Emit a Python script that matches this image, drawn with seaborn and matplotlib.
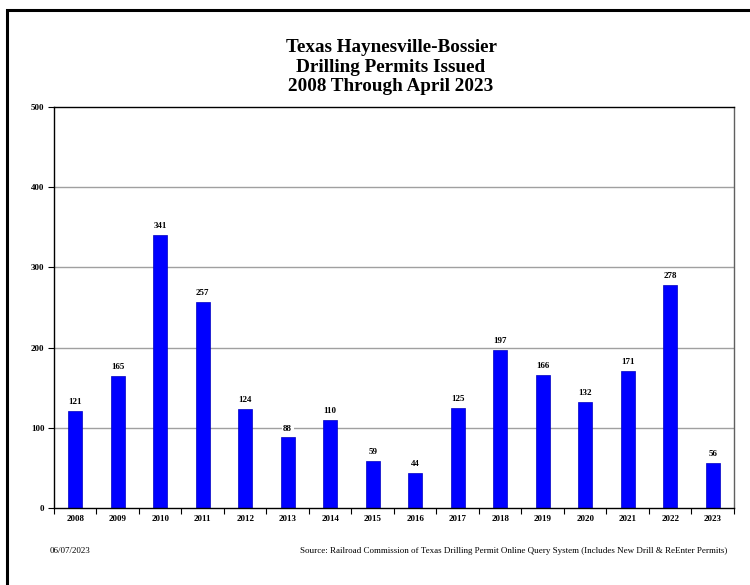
import matplotlib
matplotlib.use("Agg")
import matplotlib.pyplot as plt
import seaborn as sns
import pandas as pd
from matplotlib.patches import Rectangle

years = ["2008", "2009", "2010", "2011", "2012", "2013", "2014", "2015",
         "2016", "2017", "2018", "2019", "2020", "2021", "2022", "2023"]
permits = [121, 165, 341, 257, 124, 88, 110, 59, 44, 125, 197, 166, 132, 171, 278, 56]
yticks = [0, 100, 200, 300, 400, 500]

title = "Texas Haynesville-Bossier\nDrilling Permits Issued\n2008 Through April 2023"
date_text = "06/07/2023"
source_text = ("Source: Railroad Commission of Texas Drilling Permit Online Query System "
               "(Includes New Drill & ReEnter Permits)")

sns.set_theme(style="white")
plt.rcParams['font.family'] = ['Liberation Serif', 'DejaVu Serif']
plt.rcParams['text.color'] = 'black'
plt.rcParams['xtick.color'] = 'black'
plt.rcParams['ytick.color'] = 'black'

df = pd.DataFrame({"year": years, "permits": permits})

W, H = 750, 585
fig = plt.figure(figsize=(7.5, 5.85), dpi=100)
fig.patch.set_facecolor("white")

# outer frame (runs off right and bottom edges)
fig.add_artist(Rectangle((7 / W, -0.1), 1.2, 1 - 10 / H + 0.1,
                         transform=fig.transFigure, fill=False,
                         edgecolor="black", linewidth=2.2, clip_on=False))

ax = fig.add_axes([54 / W, 1 - 508 / H, (734 - 54) / W, (508 - 107) / H])
sns.barplot(data=df, x="year", y="permits", color="#0000FF", saturation=1,
            width=0.33, edgecolor="#0000C0", linewidth=0.5, ax=ax)

ax.set_ylim(0, 500)
ax.set_xlim(-0.5, len(years) - 0.5)
ax.set_yticks(yticks)
ax.set_yticklabels([str(v) for v in yticks], fontsize=6.5, fontweight="bold")
ax.set_xticks(range(len(years)))
ax.set_xticklabels(years, fontsize=6.5, fontweight="bold")
ax.set_xlabel("")
ax.set_ylabel("")

for v in yticks[1:-1]:
    ax.axhline(v, color="#A0A0A0", linewidth=1.0, zorder=0)

for s in ["left", "top", "bottom"]:
    ax.spines[s].set_color("black")
    ax.spines[s].set_linewidth(1.0)
ax.spines["right"].set_color("#606060")
ax.spines["right"].set_linewidth(1.0)

ax.tick_params(axis="y", which="major", left=True, length=4, width=0.8,
               color="black", pad=3)
ax.tick_params(axis="x", which="major", bottom=False, length=0, pad=5)
# boundary ticks between categories
ax.set_xticks([i - 0.5 for i in range(len(years) + 1)], minor=True)
ax.tick_params(axis="x", which="minor", bottom=True, length=4, width=0.8,
               color="black", direction="out")

for i, v in enumerate(permits):
    ax.text(i, v + 6, str(v), ha="center", va="bottom", fontsize=6.5,
            fontweight="bold", color="black",
            bbox=dict(facecolor="white", edgecolor="none", pad=1.0))

fig.text(0.5 + 16 / W, 1 - 67 / H, title, ha="center", va="center",
         fontsize=13.8, fontweight="bold", linespacing=1.2, color="black")

fig.text(50 / W, 1 - 551 / H, date_text, ha="left", va="center", fontsize=6.5)
fig.text(727 / W, 1 - 551 / H, source_text, ha="right", va="center", fontsize=6.5)

fig.savefig("out.png", dpi=100)
